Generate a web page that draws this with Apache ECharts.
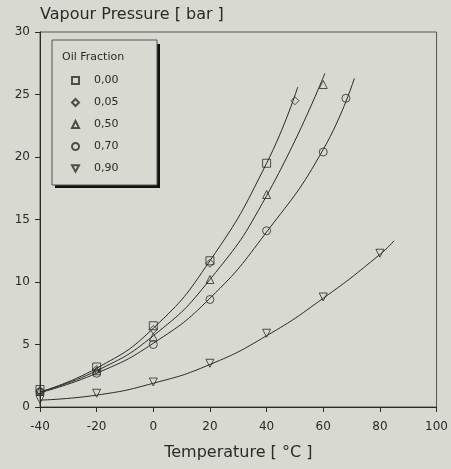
<!DOCTYPE html>
<html>
<head>
<meta charset="utf-8">
<script src="https://cdn.jsdelivr.net/npm/echarts@6/dist/echarts.min.js"></script>
<style>
    html, body { margin: 0; padding: 0; background: #d8d9d0; }
    #chart { width: 451px; height: 469px; }
</style>
</head>
<body>
<div id="chart"></div>
<script>
// measured points (temperature °C, pressure bar)
var pts000 = [[-40, 1.4], [-20, 3.2], [0, 6.5], [20, 11.7], [40, 19.5]];
var pts005 = [[-40, 1.3], [-20, 3.0], [0, 6.2], [20, 11.5], [50, 24.5]];
var pts050 = [[-40, 1.3], [-20, 2.9], [0, 5.6], [20, 10.2], [40, 17.0], [60, 25.8]];
var pts070 = [[-40, 1.2], [-20, 2.7], [0, 5.0], [20, 8.6], [40, 14.1], [60, 20.4], [68, 24.7]];
var pts090 = [[-40, 0.6], [-20, 1.1], [0, 2.0], [20, 3.5], [40, 5.9], [60, 8.8], [80, 12.3]];

// fitted curves
var fit000 = [[-40, 1.2], [-20, 3.1], [0, 6.3], [20, 11.7], [40, 19.5], [51, 25.6]];
var fit050 = [[-40, 1.2], [-20, 2.9], [0, 5.7], [20, 10.2], [40, 16.9], [60.6, 26.7]];
var fit070 = [[-40, 1.15], [-20, 2.7], [0, 5.1], [20, 8.7], [40, 14.0], [60, 20.6], [71, 26.3]];
var fit090 = [[-40, 0.55], [-20, 0.95], [0, 1.9], [20, 3.4], [40, 5.7], [60, 8.7], [80, 12.2], [85, 13.3]];

var fractions = ['0,00', '0,05', '0,50', '0,70', '0,90'];
var xTicks = [-40, -20, 0, 20, 40, 60, 80, 100];
var yTicks = [0, 5, 10, 15, 20, 25, 30];

var bg = '#d8d9d0';
var ink = '#2a2a2a';
var font = 'DejaVu Sans';
var downTri = 'path://M0,0 L10,0 L5,9 Z';

function markers(name, data, symbol) {
    return {
        name: name,
        type: 'scatter',
        data: data,
        symbol: symbol,
        symbolSize: 8,
        z: 3,
        itemStyle: { color: 'transparent', borderColor: ink, borderWidth: 1 }
    };
}
function curve(data) {
    return {
        type: 'line',
        data: data,
        smooth: true,
        showSymbol: false,
        silent: true,
        lineStyle: { color: ink, width: 1 }
    };
}

var chart = echarts.init(document.getElementById('chart'));
chart.setOption({
    backgroundColor: bg,
    animation: false,
    title: {
        text: 'Vapour Pressure [ bar ]',
        left: 40,
        top: 7,
        padding: 0,
        textStyle: { fontFamily: font, fontSize: 16, fontWeight: 'normal', color: ink }
    },
    grid: {
        left: 40, right: 13, top: 32, bottom: 62,
        show: true, borderColor: '#555', borderWidth: 1, backgroundColor: 'transparent'
    },
    graphic: [
        { type: 'rect', shape: { x: 55, y: 44, width: 105, height: 144 }, style: { fill: '#111' }, z: 10 },
        { type: 'rect', shape: { x: 52, y: 40, width: 105, height: 145 }, style: { fill: bg, stroke: '#555', lineWidth: 1 }, z: 11 },
        { type: 'text', left: 62, top: 52, z: 12,
          style: { text: 'Oil Fraction', font: '11px "DejaVu Sans"', fill: ink } }
    ],
    legend: {
        data: fractions,
        orient: 'vertical',
        left: 71,
        top: 75,
        padding: 0,
        z: 20,
        itemWidth: 7,
        itemHeight: 7,
        itemGap: 11,
        textStyle: { fontFamily: font, fontSize: 11, color: ink, padding: [0, 0, 0, 10] }
    },
    xAxis: {
        type: 'value',
        min: -40,
        max: 100,
        interval: 20,
        name: 'Temperature [ °C ]',
        nameLocation: 'middle',
        nameGap: 38,
        nameTextStyle: { fontFamily: font, fontSize: 16, color: ink },
        axisLine: { onZero: false, lineStyle: { color: ink } },
        axisTick: { length: 5, lineStyle: { color: ink } },
        axisLabel: {
            margin: 14, fontFamily: font, fontSize: 12, color: ink,
            formatter: function (v) { return xTicks.indexOf(v) >= 0 ? String(v) : ''; }
        },
        splitLine: { show: false }
    },
    yAxis: {
        type: 'value',
        min: 0,
        max: 30,
        interval: 5,
        axisLine: { show: true, onZero: false, lineStyle: { color: ink } },
        axisTick: { show: true, length: 5, lineStyle: { color: ink } },
        axisLabel: {
            margin: 10, fontFamily: font, fontSize: 12, color: ink,
            formatter: function (v) { return yTicks.indexOf(v) >= 0 ? String(v) : ''; }
        },
        splitLine: { show: false }
    },
    series: [
        curve(fit000),
        curve(fit050),
        curve(fit070),
        curve(fit090),
        markers(fractions[0], pts000, 'rect'),
        markers(fractions[1], pts005, 'diamond'),
        markers(fractions[2], pts050, 'triangle'),
        markers(fractions[3], pts070, 'circle'),
        markers(fractions[4], pts090, downTri)
    ]
});
</script>
</body>
</html>
